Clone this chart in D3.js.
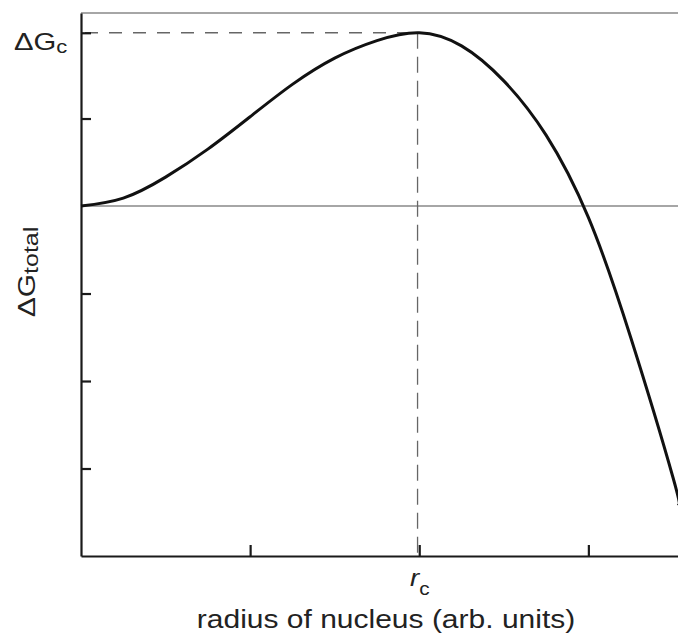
<!DOCTYPE html>
<html>
<head>
<meta charset="utf-8">
<script src="https://cdn.jsdelivr.net/npm/d3@7"></script>
<style>
  body { margin: 0; background: #fff; }
  text { font-family: "Liberation Sans", Arial, sans-serif; fill: #222; }
</style>
</head>
<body>
<div id="container"></div>
<script>
/* CONSTANTS AND GLOBALS */
const width = 678,
  height = 638,
  margin = {top: 13, bottom: 82, left: 81, right: 0};

/* DATA */
const radius = [0, 0.25, 0.5, 0.75, 1.0, 1.25, 1.5, 1.75, 2.0, 2.25, 2.5, 2.75, 3.0, 3.25, 3.5, 3.53];
const gTotal = [0, 0.09, 0.33, 0.65, 1.02, 1.39, 1.69, 1.89, 1.98, 1.83, 1.43, 0.81, -0.13, -1.50, -3.10, -3.40];
const xTicks = [1, 2, 3];
const yTicks = [1.98, 1, -1, -2, -3];
const rCrit = 1.99, gCrit = 1.98;

const data = radius.map((r, i) => ({r: r, g: gTotal[i]}));

/* SCALES */
const xScale = d3.scaleLinear()
  .domain([0, 3.53])
  .range([margin.left, width - margin.right]);

const yScale = d3.scaleLinear()
  .domain([-4, 2.206])
  .range([height - margin.bottom, margin.top]);

const svg = d3.select("#container")
  .append("svg")
  .attr("width", width)
  .attr("height", height);

// top frame line + zero line
svg.append("line")
  .attr("x1", xScale(0)).attr("x2", width)
  .attr("y1", yScale(2.206)).attr("y2", yScale(2.206))
  .attr("stroke", "#888").attr("stroke-width", 1.3);

svg.append("line")
  .attr("x1", xScale(0)).attr("x2", width)
  .attr("y1", yScale(0)).attr("y2", yScale(0))
  .attr("stroke", "#888").attr("stroke-width", 1.3);

// dashed guides to the maximum
svg.append("line")
  .attr("x1", xScale(0) + 4).attr("x2", xScale(rCrit))
  .attr("y1", yScale(gCrit)).attr("y2", yScale(gCrit))
  .attr("stroke", "#666").attr("stroke-width", 1.3)
  .attr("stroke-dasharray", "13,11");

svg.append("line")
  .attr("x1", xScale(rCrit)).attr("x2", xScale(rCrit))
  .attr("y1", yScale(gCrit)).attr("y2", yScale(-4))
  .attr("stroke", "#666").attr("stroke-width", 1.3)
  .attr("stroke-dasharray", "16,8");

// axes (ticks pointing inward)
const xAxis = d3.axisTop(xScale).tickValues(xTicks).tickSize(11).tickFormat("").tickSizeOuter(0);
svg.append("g")
  .attr("transform", `translate(0, ${yScale(-4)})`)
  .call(xAxis)
  .call(g => g.selectAll("line,path").attr("stroke", "#1a1a1a").attr("stroke-width", 2.2));

const yAxis = d3.axisRight(yScale).tickValues(yTicks).tickSize(10).tickFormat("").tickSizeOuter(0);
svg.append("g")
  .attr("transform", `translate(${margin.left}, 0)`)
  .call(yAxis)
  .call(g => g.selectAll("line,path").attr("stroke", "#1a1a1a").attr("stroke-width", 2.2));

// curve
const line = d3.line()
  .x(d => xScale(d.r))
  .y(d => yScale(d.g))
  .curve(d3.curveNatural);

svg.append("path")
  .datum(data)
  .attr("d", line)
  .attr("fill", "none")
  .attr("stroke", "#111")
  .attr("stroke-width", 3);

// labels (the original lettering is a bit wide, hence the x-scale)
const dgc = svg.append("text")
  .attr("transform", `translate(14, ${yScale(gCrit) + 17}) scale(1.22,1)`)
  .style("font-size", "24px");
dgc.append("tspan").text("ΔG");
dgc.append("tspan").attr("dy", 3).style("font-size", "18px").text("c");

const ylab = svg.append("text")
  .attr("transform", `translate(35, 272) rotate(-90) scale(1.25,1)`)
  .attr("text-anchor", "middle")
  .style("font-size", "24px");
ylab.append("tspan").text("ΔG");
ylab.append("tspan").attr("dy", 3).style("font-size", "20px").text("total");

const rc = svg.append("text")
  .attr("transform", `translate(410, 586) scale(1.15,1)`)
  .style("font-size", "24px");
rc.append("tspan").style("font-style", "italic").text("r");
rc.append("tspan").attr("dy", 9).style("font-size", "18px").text("c");

svg.append("text")
  .attr("transform", `translate(386, 628) scale(1.2,1)`)
  .attr("text-anchor", "middle")
  .style("font-size", "25px")
  .text("radius of nucleus (arb. units)");
</script>
</body>
</html>
